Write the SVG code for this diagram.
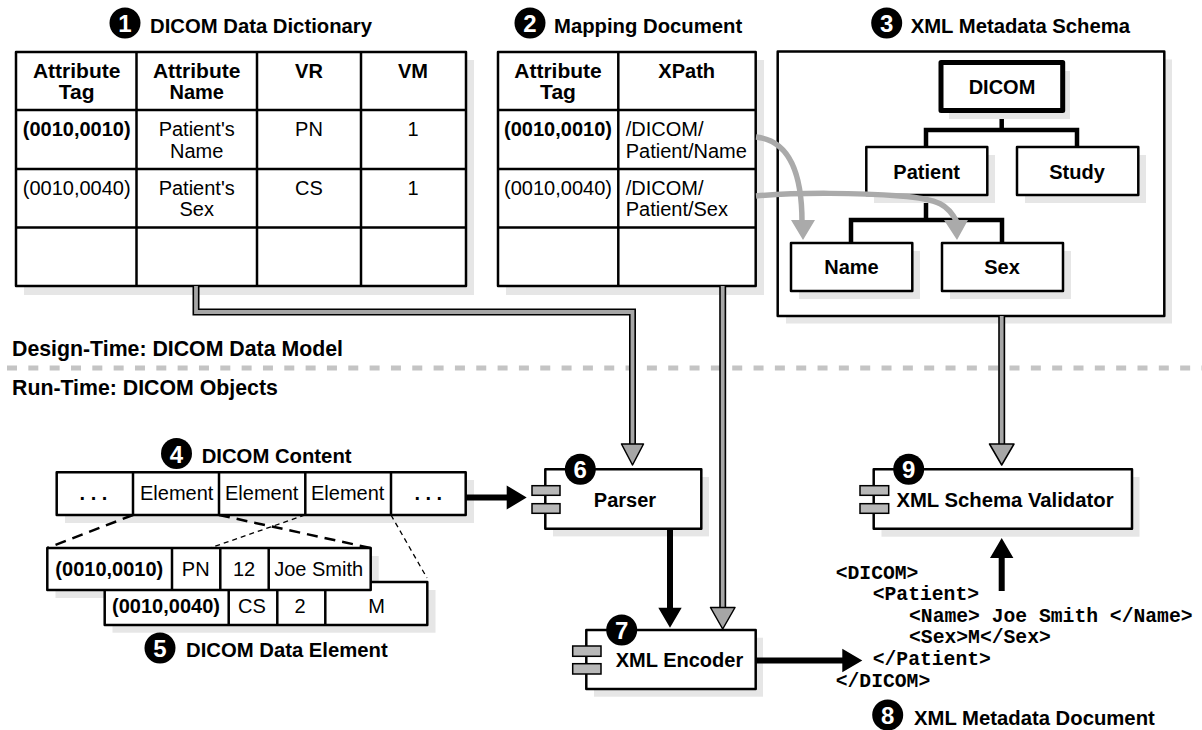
<svg xmlns="http://www.w3.org/2000/svg" width="1202" height="730" viewBox="0 0 1202 730">
<style>
text{font-family:"Liberation Sans",Arial,sans-serif;font-size:20px;fill:#000}
.b{font-weight:bold}
.ti{font-weight:bold;font-size:20.3px}
.h{font-weight:bold;font-size:21px}
.z{font-weight:bold;font-size:21.300px}
.m{text-anchor:middle}
.w{fill:#fff;font-weight:bold;font-size:24px;text-anchor:middle}
.mono{font-family:"Liberation Mono","Courier New",monospace;font-weight:bold;font-size:19.700px}
.s{fill:#e6e6e6;stroke:none}
.c{fill:#fff;stroke:#000;stroke-width:2.500;stroke-linejoin:round}
.l{fill:none;stroke:#000;stroke-width:2.500}
.t{fill:none;stroke:#000;stroke-width:4.500}
.lug{fill:#b8b8b8;stroke:#000;stroke-width:1.500}
.o{fill:none;stroke:#000;stroke-width:7}
.i{fill:none;stroke:#a6a6a6;stroke-width:3.800}
.hg{fill:#a6a6a6;stroke:#000;stroke-width:1.500;stroke-linejoin:round}
.k{fill:none;stroke:#000;stroke-width:6}
.hk{fill:#000;stroke:none}
.cg{fill:none;stroke:#aaa;stroke-width:5.500}
.ha{fill:#aaa;stroke:none}
</style>
<g id="sep">
<path d="M7 368H1202" fill="none" stroke="#c4c4c4" stroke-width="5" stroke-dasharray="10 11.330"/>
<text x="12" y="356" class="z">Design-Time: DICOM Data Model</text>
<text x="12" y="395" class="z">Run-Time: DICOM Objects</text>
</g>
<g id="dictionary">
<circle cx="125" cy="23" r="15.500"/><text x="125" y="32" class="w">1</text>
<text x="150" y="33" class="ti">DICOM Data Dictionary</text>
<rect x="24" y="60" width="450" height="235" class="s"/>
<rect x="16" y="52" width="450" height="234" class="c"/>
<path d="M136.500 52V286M257 52V286M361 52V286M16 110H466M16 169H466M16 227.500H466" class="l"/>
<text x="76.700" y="78" class="h m">Attribute</text><text x="76.700" y="99" class="h m">Tag</text>
<text x="196.700" y="78" class="h m">Attribute</text><text x="196.700" y="99" class="b m">Name</text>
<text x="309" y="78" class="b m">VR</text><text x="413" y="78" class="b m">VM</text>
<text x="76.700" y="136" class="b m">(0010,0010)</text><text x="196.700" y="136" class="m">Patient's</text><text x="196.700" y="158" class="m">Name</text>
<text x="309" y="136" class="m">PN</text><text x="413" y="136" class="m">1</text>
<text x="76.700" y="195" class="m">(0010,0040)</text><text x="196.700" y="195" class="m">Patient's</text><text x="196.700" y="216" class="m">Sex</text>
<text x="309" y="195" class="m">CS</text><text x="413" y="195" class="m">1</text>
</g>
<g id="mapping">
<circle cx="530" cy="23" r="15.500"/><text x="530" y="32" class="w">2</text>
<text x="554" y="33" class="ti">Mapping Document</text>
<rect x="506" y="60" width="258" height="235" class="s"/>
<rect x="498" y="52" width="257.700" height="234" class="c"/>
<path d="M618.300 52V286M498 110H755.700M498 169H755.700M498 227.500H755.700" class="l"/>
<text x="558" y="78" class="h m">Attribute</text><text x="558" y="99" class="h m">Tag</text>
<text x="686.700" y="78" class="b m">XPath</text>
<text x="558" y="136" class="b m">(0010,0010)</text><text x="625.700" y="136">/DICOM/</text><text x="625.700" y="158">Patient/Name</text>
<text x="558" y="195" class="m">(0010,0040)</text><text x="625.700" y="195">/DICOM/</text><text x="625.700" y="216">Patient/Sex</text>
</g>
<g id="schema">
<circle cx="886.700" cy="23" r="15.500"/><text x="886.700" y="32" class="w">3</text>
<text x="910.700" y="33" class="ti">XML Metadata Schema</text>
<rect x="786" y="59.500" width="386" height="264" class="s"/>
<rect x="777.700" y="51.500" width="386.600" height="264.500" class="c"/>
</g>
<g id="tree-lines">
<path d="M1001.700 111V130M926 147V130H1077V147M926 195V220M851 243V220H1002V243" class="t"/>
</g>
<g id="dicom-node">
<rect x="949" y="71" width="121" height="48" class="s"/>
<rect x="941" y="62.500" width="121.700" height="48" fill="#fff" stroke="#000" stroke-width="5" stroke-linejoin="round"/>
<text x="1002" y="94" class="b m">DICOM</text>
</g>
<g id="patient-node">
<rect x="874" y="155" width="121" height="48" class="s"/>
<rect x="866.300" y="147" width="121" height="48" class="c"/>
<text x="926.700" y="179" class="b m">Patient</text>
</g>
<g id="study-node">
<rect x="1025" y="155" width="121" height="48" class="s"/>
<rect x="1017" y="147" width="121.300" height="48" class="c"/>
<text x="1077" y="179" class="b m">Study</text>
</g>
<g id="name-node">
<rect x="799" y="251" width="121" height="48" class="s"/>
<rect x="791" y="243" width="121.300" height="48" class="c"/>
<text x="851.500" y="274" class="b m">Name</text>
</g>
<g id="sex-node">
<rect x="950" y="251" width="121" height="48" class="s"/>
<rect x="942" y="243" width="121" height="48" class="c"/>
<text x="1002" y="274" class="b m">Sex</text>
</g>
<g id="content">
<circle cx="176.500" cy="453.500" r="15.500"/><text x="176.500" y="462.500" class="w">4</text>
<text x="201.700" y="463" class="ti">DICOM Content</text>
<rect x="65" y="480" width="409" height="43" class="s"/>
<rect x="56.700" y="472.300" width="409" height="42.700" class="c"/>
<path d="M133 472V515M219 472V515M305.300 472V515M391 472V515" class="l"/>
<text x="93.500" y="500" class="b m">. . .</text>
<text x="176.700" y="500" class="m">Element</text><text x="261.700" y="500" class="m">Element</text><text x="347.700" y="500" class="m">Element</text>
<text x="428.300" y="500" class="b m">. . .</text>
</g>
<g id="data-element">
<rect x="112.500" y="590" width="323" height="42.700" class="s"/>
<rect x="55.500" y="556" width="323.200" height="42" class="s"/>
<rect x="104.700" y="582" width="322.600" height="43" class="c"/>
<path d="M228.700 590V625M277.300 590V625M325.300 590V625" class="l"/>
<rect x="47.300" y="548" width="323.400" height="42" class="c"/>
<path d="M172 548V590M220.300 548V590M268.700 548V590" class="l"/>
<text x="109.300" y="576" class="b m">(0010,0010)</text><text x="195.700" y="576" class="m">PN</text><text x="244" y="576" class="m">12</text><text x="318.700" y="576" class="m">Joe Smith</text>
<text x="166" y="613" class="b m">(0010,0040)</text><text x="252" y="613" class="m">CS</text><text x="300" y="613" class="m">2</text><text x="376.700" y="613" class="m">M</text>
<circle cx="160" cy="648" r="15.500"/><text x="160" y="657" class="w">5</text>
<text x="186" y="657" class="ti">DICOM Data Element</text>
</g>
<g id="parser">
<rect x="553" y="477" width="156" height="59.400" class="s"/>
<rect x="545.300" y="469.300" width="156" height="59.400" class="c"/>
<rect x="532" y="485.700" width="28" height="9.600" class="lug"/><rect x="532" y="503.700" width="28" height="9.600" class="lug"/>
<circle cx="580.300" cy="469.300" r="15.500"/><text x="580.300" y="478" class="w">6</text>
<text x="625" y="507" class="b m">Parser</text>
</g>
<g id="encoder">
<rect x="594" y="637.700" width="169" height="59" class="s"/>
<rect x="586.300" y="630" width="169.400" height="59" class="c"/>
<rect x="572.700" y="646" width="28.300" height="10.300" class="lug"/><rect x="572.700" y="663.700" width="28.300" height="10.300" class="lug"/>
<circle cx="621.700" cy="630" r="15.500"/><text x="621.700" y="639" class="w">7</text>
<text x="679.500" y="667" class="b m">XML Encoder</text>
</g>
<g id="validator">
<rect x="881.500" y="477" width="258" height="59.700" class="s"/>
<rect x="873.700" y="469.300" width="258.300" height="59.400" class="c"/>
<rect x="860" y="485.700" width="28.700" height="9.600" class="lug"/><rect x="860" y="503.700" width="28.700" height="9.600" class="lug"/>
<circle cx="908.700" cy="469.300" r="15.500"/><text x="908.700" y="478" class="w">9</text>
<text x="1005" y="507" class="ti m">XML Schema Validator</text>
</g>
<g id="document">
<text x="835.700" y="579" class="mono">&lt;DICOM&gt;</text>
<text x="872.700" y="600" class="mono">&lt;Patient&gt;</text>
<text x="909" y="622" class="mono">&lt;Name&gt; Joe Smith &lt;/Name&gt;</text>
<text x="909" y="643" class="mono">&lt;Sex&gt;M&lt;/Sex&gt;</text>
<text x="872.700" y="665" class="mono">&lt;/Patient&gt;</text>
<text x="835.700" y="686.500" class="mono">&lt;/DICOM&gt;</text>
<circle cx="887.700" cy="715" r="15.500"/><text x="887.700" y="724" class="w">8</text>
<text x="914" y="725" class="ti">XML Metadata Document</text>
</g>
<g id="connectors">
<path d="M133 515L47.300 548M219 515L370.700 548" fill="none" stroke="#000" stroke-width="2.500" stroke-dasharray="11 7"/>
<path d="M305 515L210 548M391 515L427 578" fill="none" stroke="#000" stroke-width="1.300" stroke-dasharray="5 4"/>
<path d="M196 286V312H632.500V445M722.700 286V608M1001.700 316V445" class="o"/>
<path d="M196 286V312H632.500V445M722.700 286V608M1001.700 316V445" class="i"/>
<path d="M621.500 444H643.500L632.500 465Z" class="hg"/>
<path d="M710.500 607.500H735L722.700 629Z" class="hg"/>
<path d="M989.500 444H1014L1001.700 465Z" class="hg"/>
<path d="M466 497.500H507M670 528.700V608M755.700 660.500H843M1001.700 591V557" class="k"/>
<path d="M506.700 485.500L526.700 497.500L506.700 509.500ZM658.300 607.700H681.700L670 627.700ZM842.300 648.800L862.300 660.500L842.300 672.200ZM990 558H1013.400L1001.700 538Z" class="hk"/>
<path d="M756 137C785 140 802 165 802 222" class="cg"/>
<path d="M756 196C800 192 860 193 900 196S948 205 957 222" class="cg"/>
<path d="M791 220H815L803 240ZM944 220H968L957 240Z" class="ha"/>
</g>
</svg>
